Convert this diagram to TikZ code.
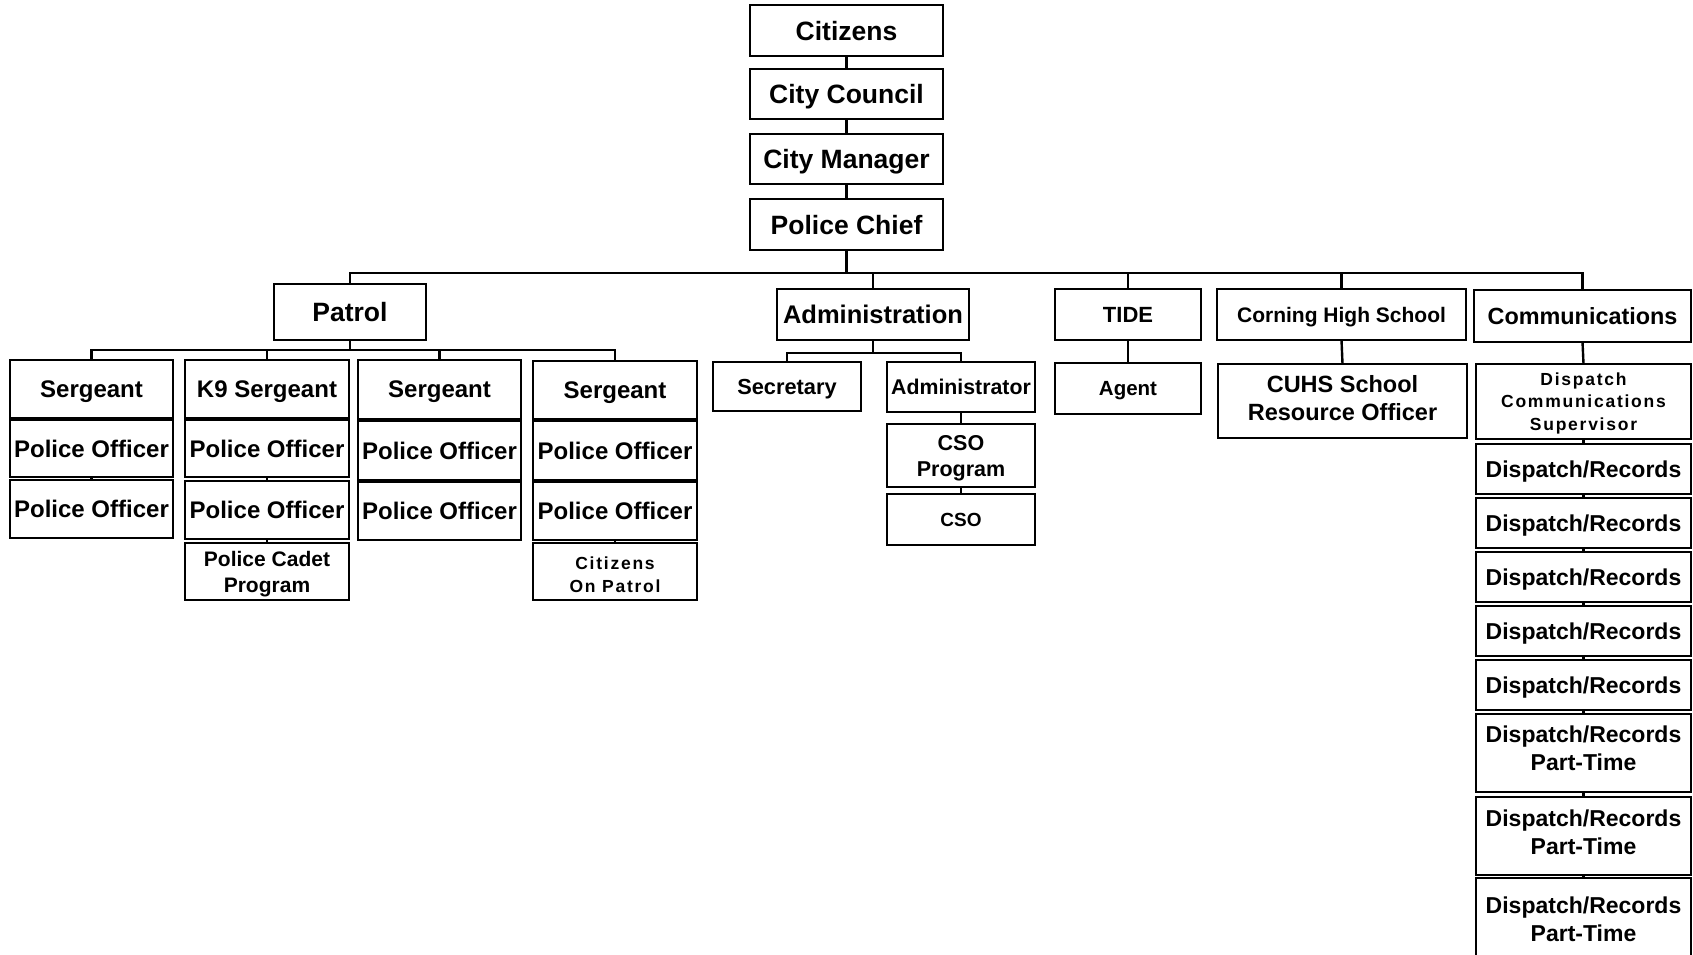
\documentclass[tikz,border=0pt]{standalone}
\usepackage{fontspec}
\setmainfont{Liberation Sans}
\newfontfamily\spc[LetterSpace=10]{Liberation Sans}
\newcommand\fs[2]{\fontsize{#1}{#2}\selectfont\bfseries}
\newcommand\bx[8][]{\node[box,font=#7,minimum width={(#5-#3)*1pt},minimum height={(#6-#4)*1pt},#1] (#2) at ({(#3+#5)/2},{(#4+#6)/2}) {#8};}
\begin{document}
\begin{tikzpicture}[x=1pt,y=-1pt,
  box/.style={draw,line width=2.6pt,fill=white,inner sep=0pt,outer sep=0pt,align=center,text depth=0pt},
  ln/.style={line width=2.4pt}]
\clip (0,0) rectangle (1693,954);
\fill[white] (0,0) rectangle (1693,954);
% top chain
\bx[text depth=-2pt]{cit}{750}{5}{943}{56}{\fs{26.5}{30}}{Citizens}
\bx{cc}{750}{69}{943}{119}{\fs{26.5}{30}}{City Council}
\bx{cm}{750}{134}{943}{184}{\fs{26.5}{30}}{City Manager}
\bx{pc}{750}{199}{943}{250}{\fs{26.5}{30}}{Police Chief}
% departments
\bx{pat}{274}{284}{426}{340}{\fs{26.5}{30}}{Patrol}
\bx{adm}{777}{289}{969}{340}{\fs{25.5}{30}}{Administration}
\bx[text depth=-2pt]{tide}{1055}{289}{1201}{340}{\fs{22}{26}}{TIDE}
\bx{chs}{1217}{289}{1466}{340}{\fs{21}{26}}{Corning High School}
\bx{comm}{1474}{290}{1691}{342}{\fs{23.4}{28}}{Communications}
% patrol columns
\bx{a1}{10}{360}{173}{418}{\fs{24}{28}}{Sergeant}
\bx{a2}{10}{420}{173}{477}{\fs{24}{28}}{Police Officer}
\bx{a3}{10}{480}{173}{538}{\fs{24}{28}}{Police Officer}
\bx{b1}{185}{360}{349}{418}{\fs{24}{28}}{K9 Sergeant}
\bx{b2}{185}{420}{349}{477}{\fs{24}{28}}{Police Officer}
\bx{b3}{185}{481}{349}{539}{\fs{24}{28}}{Police Officer}
\bx{b4}{185}{543}{349}{600}{\fs{21}{26}}{Police Cadet\\Program}
\bx{c1}{358}{360}{521}{419}{\fs{24}{28}}{Sergeant}
\bx{c2}{358}{421}{521}{480}{\fs{24}{28}}{Police Officer}
\bx{c3}{358}{482}{521}{540}{\fs{24}{28}}{Police Officer}
\bx{d1}{533}{361}{697}{419}{\fs{24}{28}}{Sergeant}
\bx{d2}{533}{421}{697}{480}{\fs{24}{28}}{Police Officer}
\bx{d3}{533}{482}{697}{540}{\fs{24}{28}}{Police Officer}
\bx[text height=41.5pt]{d4}{533}{543}{697}{600}{\spc\fs{17.5}{22.7}}{Citizens\\On Patrol}
% administration
\bx{sec}{713}{362}{861}{411}{\fs{21.8}{26}}{Secretary}
\bx{adr}{887}{362}{1035}{412}{\fs{21.3}{26}}{Administrator}
\bx{csop}{887}{424}{1035}{487}{\fs{21.5}{26}}{CSO\\Program}
\bx{cso}{887}{494}{1035}{545}{\fs{19}{24}}{CSO}
% tide, school
\bx{agent}{1055}{363}{1201}{414}{\fs{20.5}{26}}{Agent}
\bx[text depth=7pt]{cuhs}{1218}{364}{1467}{438}{\fs{23.5}{28}}{CUHS School\\Resource Officer}
% communications
\bx{dcs}{1476}{364}{1691}{439}{\spc\fs{17.5}{22.7}}{Dispatch\\Communications\\Supervisor}
\bx{dr1}{1476}{444}{1691}{494}{\fs{23}{28}}{Dispatch/Records}
\bx{dr2}{1476}{498}{1691}{548}{\fs{23}{28}}{Dispatch/Records}
\bx{dr3}{1476}{552}{1691}{602}{\fs{23}{28}}{Dispatch/Records}
\bx{dr4}{1476}{606}{1691}{656}{\fs{23}{28}}{Dispatch/Records}
\bx{dr5}{1476}{660}{1691}{710}{\fs{23}{28}}{Dispatch/Records}
\bx[text depth=9pt]{pt1}{1476}{714}{1691}{792}{\fs{23}{28}}{Dispatch/Records\\Part-Time}
\bx[text depth=7pt]{pt2}{1476}{797}{1691}{875}{\fs{23}{28}}{Dispatch/Records\\Part-Time}
\bx{pt3}{1476}{878}{1691}{960}{\fs{23}{28}}{Dispatch/Records\\Part-Time}
% connectors
\coordinate (bus) at (0,273);
\coordinate (pbus) at (0,350);
\coordinate (abus) at (0,353);
\draw[ln] (cit.south) -- (cc.north);
\draw[ln] (cc.south) -- (cm.north);
\draw[ln] (cm.south) -- (pc.north);
\draw[ln] (pc.south) -- (pc.south |- bus);
\draw[ln] (pat.north) -- (pat.north |- bus) -- (comm.north |- bus) -- (comm.north);
\draw[ln] (adm.north) -- (adm.north |- bus);
\draw[ln] (tide.north) -- (tide.north |- bus);
\draw[ln] (chs.north) -- (chs.north |- bus);
% patrol
\draw[ln] (pat.south) -- (pat.south |- pbus);
\draw[ln] (a1.north) -- (a1.north |- pbus) -- (d1.north |- pbus) -- (d1.north);
\draw[ln] (b1.north) -- (b1.north |- pbus);
\draw[ln] (c1.north) -- (c1.north |- pbus);
\draw[ln] (a1.south) -- (a2.north); \draw[ln] (a2.south) -- (a3.north);
\draw[ln] (b1.south) -- (b2.north); \draw[ln] (b2.south) -- (b3.north); \draw[ln] (b3.south) -- (b4.north);
\draw[ln] (c1.south) -- (c2.north); \draw[ln] (c2.south) -- (c3.north);
\draw[ln] (d1.south) -- (d2.north); \draw[ln] (d2.south) -- (d3.north); \draw[ln] (d3.south) -- (d4.north);
% administration
\draw[ln] (adm.south) -- (adm.south |- abus);
\draw[ln] (sec.north) -- (sec.north |- abus) -- (adr.north |- abus) -- (adr.north);
\draw[ln] (adr.south) -- (csop.north);
\draw[ln] (csop.south) -- (cso.north);
% tide, school
\draw[ln] (tide.south) -- (agent.north);
\draw[ln] (chs.south) -- (cuhs.north);
% communications
\draw[ln] (comm.south) -- (dcs.north);
\draw[ln] (dcs.south) -- (dr1.north);
\draw[ln] (dr1.south) -- (dr2.north);
\draw[ln] (dr2.south) -- (dr3.north);
\draw[ln] (dr3.south) -- (dr4.north);
\draw[ln] (dr4.south) -- (dr5.north);
\draw[ln] (dr5.south) -- (pt1.north);
\draw[ln] (pt1.south) -- (pt2.north);
\draw[ln] (pt2.south) -- (pt3.north);
\end{tikzpicture}
\end{document}
